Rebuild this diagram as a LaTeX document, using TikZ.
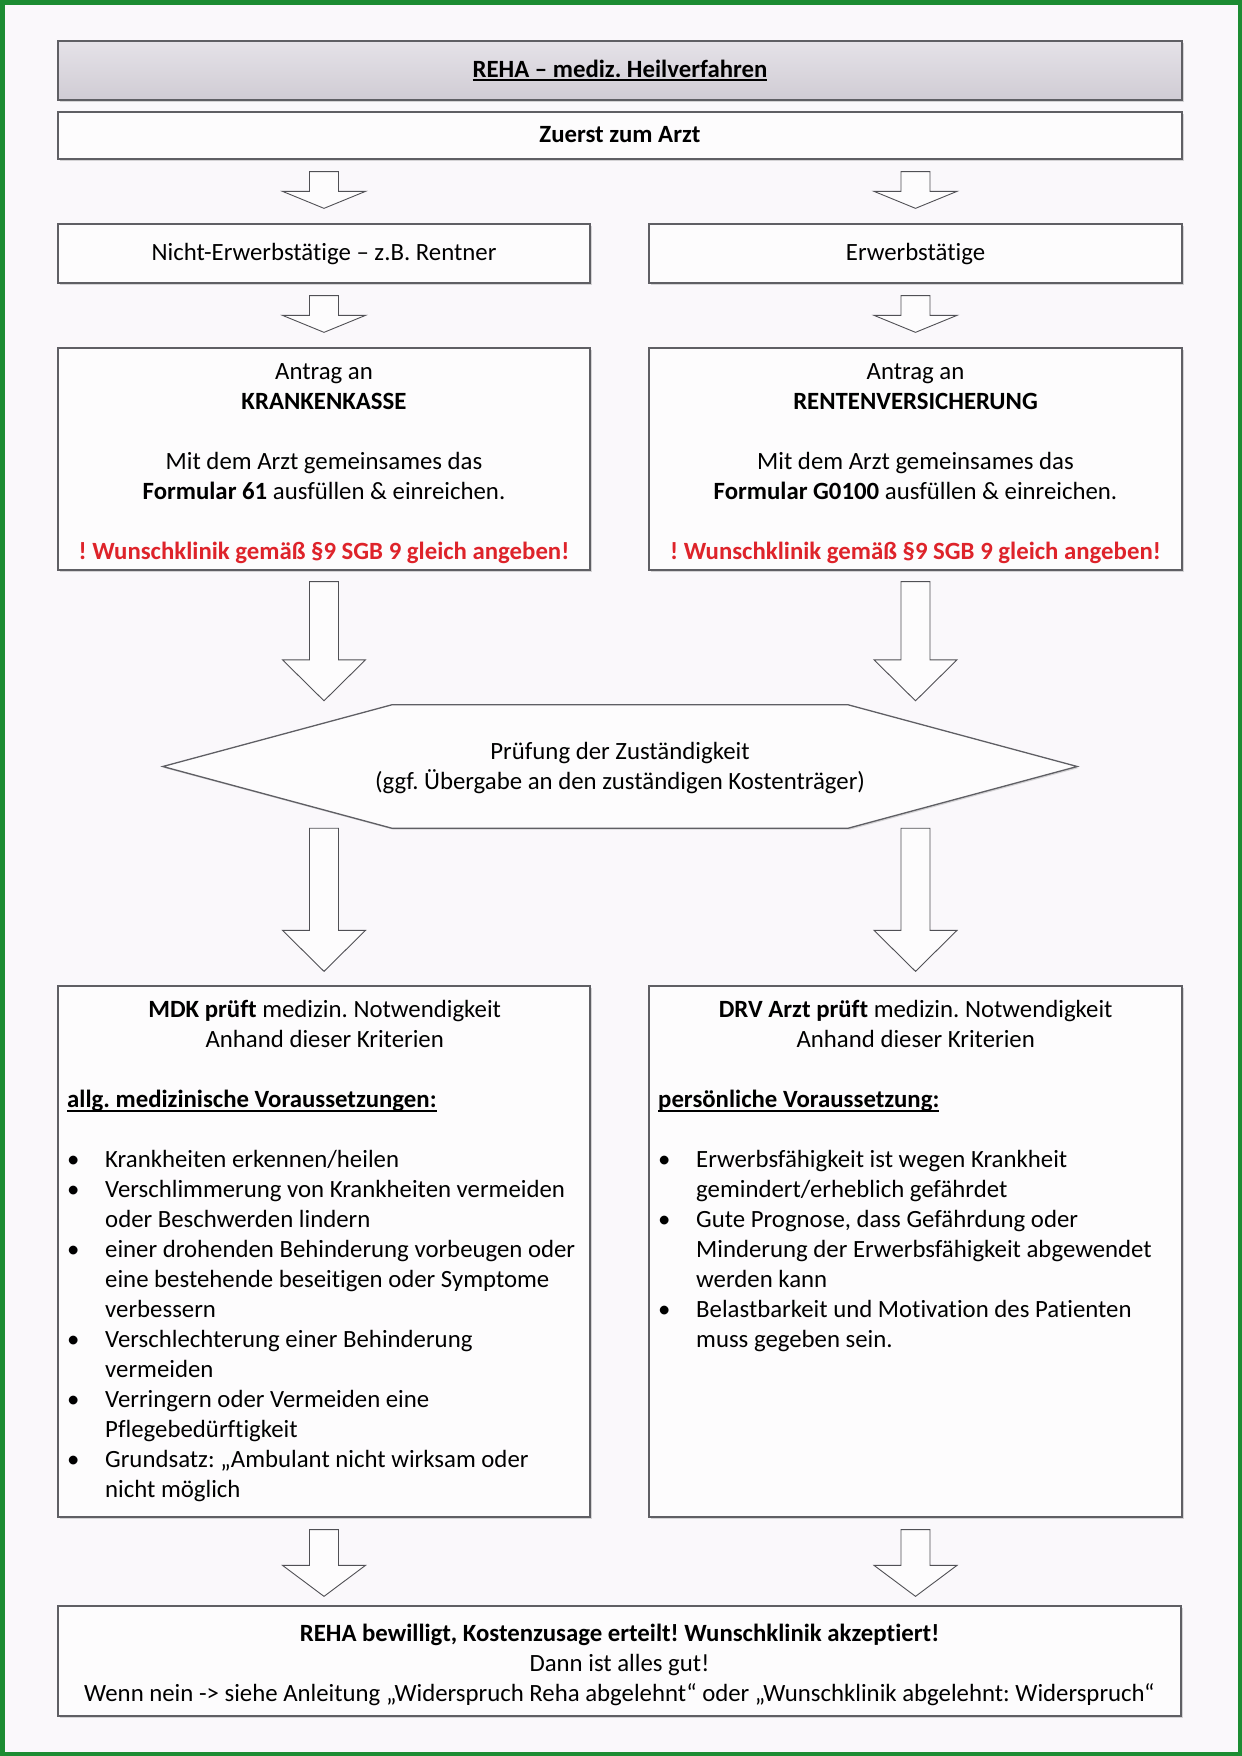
\documentclass[tikz,border=0pt]{standalone}
\usepackage{fontspec}
\setmainfont{Carlito}[Ligatures={TeX,NoCommon}]
\usetikzlibrary{calc,shadows}
\setlength{\parindent}{0pt}
\definecolor{bg}{RGB}{250,248,251}
\definecolor{frame}{RGB}{28,140,50}
\definecolor{edge}{RGB}{95,95,100}
\definecolor{arrowedge}{RGB}{80,80,85}
\definecolor{wred}{RGB}{222,35,42}
\definecolor{titletop}{RGB}{229,226,232}
\definecolor{titlebot}{RGB}{208,204,212}
\newcommand\ulin[2][4]{\setbox0\hbox{#2}\rlap{\rule[-#1pt]{\wd0}{2pt}}\box0}
\newcommand\nl{\hfil\break\strut}
\newcommand\bitem[1]{\par\hangindent=38pt\hangafter=1\noindent\strut\makebox[38pt][l]{\textbullet}#1\par}
\newcommand\resetsp{\spaceskip=0pt\xspaceskip=0pt\frenchspacing}
\newcommand\barr[6]{\draw[barrow] let \p1=(#1.center), \p2=(#2.south), \p3=(#3.north) in
 (\x1-14.5pt,\y2-#4pt) -- (\x1+14.5pt,\y2-#4pt) -- (\x1+14.5pt,\y3+#5pt+#6pt) -- (\x1+41.5pt,\y3+#5pt+#6pt) -- (\x1,\y3+#5pt) -- (\x1-41.5pt,\y3+#5pt+#6pt) -- (\x1-14.5pt,\y3+#5pt+#6pt) -- cycle;}
\tikzset{
  every node/.style={font=\fontsize{24.8}{30}\selectfont\frenchspacing, inner sep=0pt},
  shad/.style={drop shadow={shadow xshift=1.5pt,shadow yshift=-1.5pt,fill=black,opacity=0.15}},
  box/.style={draw=edge, line width=1.3pt, fill=white!55!bg, shad},
  titlebox/.style={draw=edge, line width=1.3pt, top color=titletop, bottom color=titlebot, shad},
  barrow/.style={draw=arrowedge, line width=0.9pt, fill=white!55!bg},
  txt/.style={align=center, anchor=north},
  listtxt/.style={text width=515pt, align=left, anchor=north west}
}
\begin{document}
\begin{tikzpicture}[x=1pt,y=-1pt]
\useasboundingbox (0,0) rectangle (1242,1756);
\fill[bg] (0,0) rectangle (1242,1756);

% boxes
\node[titlebox, minimum width=1124pt, minimum height=59pt] (title) at (620,70.5) {};
\node[box, minimum width=1124pt, minimum height=47pt] (zuerst) at (620,135.5) {};
\node[box, minimum width=532pt, minimum height=59pt] (nicht) at (324,253.5) {};
\node[box, minimum width=533pt, minimum height=59pt] (erwerb) at (915.5,253.5) {};
\node[box, minimum width=532pt, minimum height=222pt] (kk) at (324,459) {};
\node[box, minimum width=533pt, minimum height=222pt] (rv) at (915.5,459) {};
\node[minimum width=456pt, minimum height=123pt] (pruef) at (620,766.5) {};
\draw[box] (pruef.north west) -- (pruef.north east) -- ($(pruef.east)+(229,0)$) -- (pruef.south east) -- (pruef.south west) -- ($(pruef.west)+(-229,0)$) -- cycle;
\node[box, minimum width=532pt, minimum height=531pt] (mdk) at (324,1251.5) {};
\node[box, minimum width=533pt, minimum height=531pt] (drv) at (915.5,1251.5) {};
\node[box, minimum width=1123pt, minimum height=110pt] (final) at (619.5,1661) {};

% block arrows
\barr{nicht}{zuerst}{nicht}{12}{15}{17}
\barr{erwerb}{zuerst}{erwerb}{12}{15}{17}
\barr{nicht}{nicht}{kk}{12}{15}{17}
\barr{erwerb}{erwerb}{rv}{12}{15}{17}
\barr{kk}{kk}{pruef}{11}{4}{41}
\barr{rv}{rv}{pruef}{11}{4}{41}
\barr{mdk}{pruef}{mdk}{0}{14}{41}
\barr{drv}{pruef}{drv}{0}{14}{41}
\barr{mdk}{mdk}{final}{12}{9}{31}
\barr{drv}{drv}{final}{12}{9}{31}

% texts
\node[anchor=base] (titletext) at (620,77) {\ulin{\bfseries REHA – mediz. Heilverfahren}};
\node[anchor=base] (zuersttext) at (620,142) {\bfseries Zuerst zum Arzt};
\node[anchor=base] (nichttext) at (324,260) {Nicht-Erwerbstätige – z.B. Rentner};
\node[anchor=base] (erwerbtext) at (915.5,260) {Erwerbstätige};

\node[txt] (kktext) at (324,358) {\strut Antrag an\\ \strut\textbf{KRANKENKASSE}\\ \strut\\ \strut Mit dem Arzt gemeinsames das\\ \strut\textbf{Formular 61} ausfüllen \& einreichen.\\ \strut\\ \strut\textcolor{wred}{\bfseries ! Wunschklinik gemäß §9 SGB 9 gleich angeben!}};
\node[txt] (rvtext) at (915.5,358) {\strut Antrag an\\ \strut\textbf{RENTENVERSICHERUNG}\\ \strut\\ \strut Mit dem Arzt gemeinsames das\\ \strut\textbf{Formular G0100} ausfüllen \& einreichen.\\ \strut\\ \strut\textcolor{wred}{\bfseries ! Wunschklinik gemäß §9 SGB 9 gleich angeben!}};

\node[txt] (prueftext) at (620,738) {\strut Prüfung der Zuständigkeit\\ \strut(ggf. Übergabe an den zuständigen Kostenträger)};

\node[listtxt] (mdktext) at (67,996) {\resetsp
{\centering\strut\textbf{MDK prüft} medizin. Notwendigkeit\par
\strut Anhand dieser Kriterien\par}
\noindent\strut\par
\noindent\strut\ulin[5]{\bfseries allg. medizinische Voraussetzungen:}\par
\noindent\strut\par
\bitem{\mbox{Krankheiten erkennen/heilen}}
\bitem{\mbox{Verschlimmerung von Krankheiten vermeiden}\nl\mbox{oder Beschwerden lindern}}
\bitem{\mbox{einer drohenden Behinderung vorbeugen oder}\nl\mbox{eine bestehende beseitigen oder Symptome}\nl\mbox{verbessern}}
\bitem{\mbox{Verschlechterung einer Behinderung}\nl\mbox{vermeiden}}
\bitem{\mbox{Verringern oder Vermeiden eine}\nl\mbox{Pflegebedürftigkeit}}
\bitem{\mbox{Grundsatz: „Ambulant nicht wirksam oder}\nl\mbox{nicht möglich}}};

\node[listtxt] (drvtext) at (658,996) {\resetsp
{\centering\strut\textbf{DRV Arzt prüft} medizin. Notwendigkeit\par
\strut Anhand dieser Kriterien\par}
\noindent\strut\par
\noindent\strut\ulin[5]{\bfseries persönliche Voraussetzung:}\par
\noindent\strut\par
\bitem{\mbox{Erwerbsfähigkeit ist wegen Krankheit}\nl\mbox{gemindert/erheblich gefährdet}}
\bitem{\mbox{Gute Prognose, dass Gefährdung oder}\nl\mbox{Minderung der Erwerbsfähigkeit abgewendet}\nl\mbox{werden kann}}
\bitem{\mbox{Belastbarkeit und Motivation des Patienten}\nl\mbox{muss gegeben sein.}}};

\node[txt] (finaltext) at (619.5,1620) {\strut\textbf{REHA bewilligt, Kostenzusage erteilt! Wunschklinik akzeptiert!}\\ \strut Dann ist alles gut!\\ \strut Wenn nein -> siehe Anleitung „Widerspruch Reha abgelehnt“ oder „Wunschklinik abgelehnt: Widerspruch“};

% green frame
\draw[frame, line width=4.5pt] (2.25,2.25) rectangle (1239.75,1753.75);
\end{tikzpicture}
\end{document}
